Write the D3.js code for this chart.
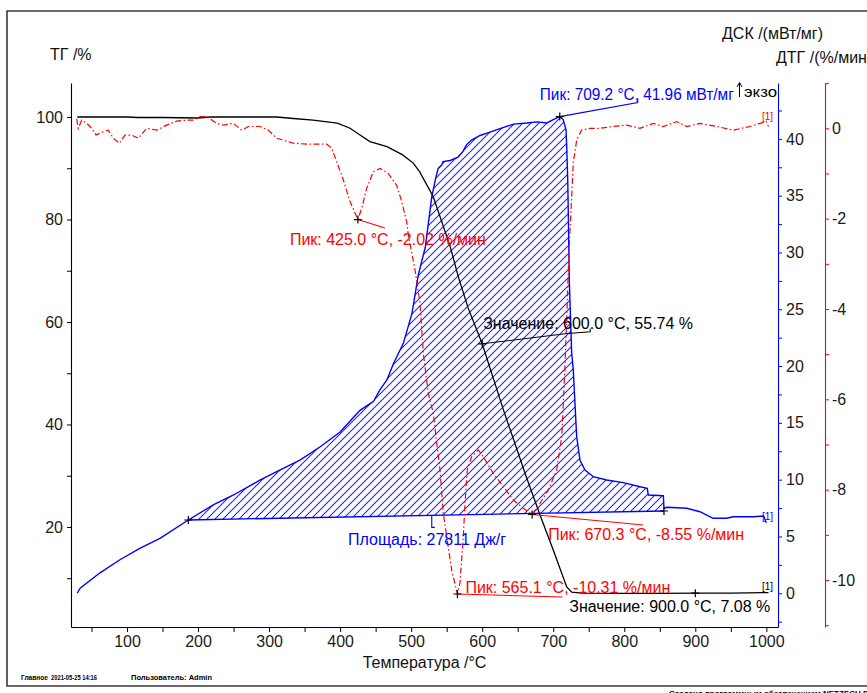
<!DOCTYPE html>
<html>
<head>
<meta charset="utf-8">
<script src="https://cdn.jsdelivr.net/npm/d3@7"></script>
<style>
  body { margin: 0; background: #fff; }
  svg text { font-family: "Liberation Sans", Arial, sans-serif; }
</style>
</head>
<body>
<svg id="chart" width="867" height="693"></svg>
<script>
// ---- Thermal analysis data (STA: TG / DTG / DSC) ----
const tgTemp = [30, 60, 100, 115, 150, 200, 217, 260, 311, 334, 362, 396, 414, 428, 442, 466, 488, 503, 512, 531, 555, 566, 580, 600, 630, 662, 681, 700, 719, 726, 740, 800, 850, 900, 950, 1003];
const tgMass = [100.0, 100.0, 100.0, 99.9, 99.9, 99.8, 100.0, 100.0, 100.0, 99.7, 99.4, 98.8, 97.8, 96.5, 95.2, 94.2, 92.6, 91.0, 89.3, 84.5, 74.7, 69.0, 62.8, 55.74, 42.8, 29.8, 22.5, 15.5, 8.3, 7.3, 7.1, 7.05, 7.05, 7.08, 7.1, 7.2];

const dtgTemp = [29.2, 31.4, 36.2, 43.3, 50.3, 56.4, 64.4, 73.7, 80.7, 89.2, 97.2, 106.6, 115.9, 127.7, 141.8, 155.9, 169.9, 184, 193.3, 202.8, 212.2, 226.3, 235.6, 249.6, 261.5, 270.8, 287.2, 298.9, 310.7, 334.1, 353, 381.1, 388.1, 395.2, 404.5, 413.9, 425.0, 430.4, 437.4, 446.7, 456.1, 467.8, 479.6, 486.7, 493.7, 496, 505.4, 512.5, 517.1, 524.1, 531.2, 536, 540.6, 545.2, 550, 557.1, 565.1, 568.7, 573.4, 575.8, 579, 585.2, 594.5, 601.5, 615.6, 629.7, 643.8, 657.8, 670.3, 681.4, 693.1, 704.9, 712, 714.2, 716.6, 719, 721.2, 723.6, 726, 728.2, 733, 740, 751.7, 765.8, 784.5, 803.4, 822.1, 840.9, 855, 873.8, 887.9, 906.7, 930.2, 953.5, 977, 991, 1000, 1003];
const dtgRate = [0.21, 0.0, 0.18, 0.11, 0.0, -0.15, -0.09, -0.04, -0.22, -0.33, -0.15, -0.15, -0.22, 0.0, -0.04, 0.07, 0.16, 0.18, 0.18, 0.26, 0.26, 0.11, 0.07, 0.11, -0.04, 0.04, 0.04, -0.04, -0.22, -0.33, -0.35, -0.35, -0.44, -0.74, -1.14, -1.62, -2.02, -1.77, -1.33, -0.96, -0.89, -1.0, -1.26, -1.62, -2.07, -2.36, -3.13, -3.87, -4.98, -5.87, -6.31, -6.97, -7.56, -8.52, -9.04, -9.78, -10.31, -10.07, -9.04, -8.3, -7.56, -7.27, -7.12, -7.27, -7.64, -7.93, -8.23, -8.41, -8.55, -8.3, -8.01, -7.56, -6.83, -6.09, -5.2, -4.24, -3.13, -2.25, -1.51, -0.77, -0.26, -0.04, 0.0, 0.0, 0.04, 0.07, 0.0, 0.11, 0.04, 0.15, 0.04, 0.11, 0.04, -0.04, 0.04, 0.11, 0.15, 0.04];

const dscTemp = [30, 34, 62, 90, 118, 147, 186.3, 222, 250, 287, 315, 344, 372, 400, 419, 428, 447, 456, 466, 475, 489, 501, 505, 510, 520, 529, 534, 538, 543, 545, 555, 566, 573, 578, 585, 597, 611, 625, 644, 663, 677, 691, 700, 709.2, 714, 718, 719, 720.4, 721.2, 722.6, 726, 728.2, 730.6, 733, 737.7, 744.7, 756.4, 775.3, 798.7, 822.1, 832.4, 833.8, 855, 855.9, 860, 888, 906.5, 925, 944, 953.4, 982, 996, 1000];
const dscHeat = [0.0, 0.45, 1.8, 2.95, 3.95, 4.85, 6.45, 7.8, 8.65, 9.95, 10.85, 11.75, 12.9, 14.2, 15.5, 16.1, 16.9, 17.9, 18.8, 20.2, 22.0, 24.6, 26.1, 28.0, 30.5, 34.9, 36.4, 37.4, 37.7, 38.0, 38.1, 38.4, 38.9, 39.5, 39.9, 40.3, 40.6, 40.9, 41.3, 41.4, 41.5, 41.4, 41.7, 41.96, 41.7, 40.8, 39.3, 36.4, 33.5, 27.6, 21.1, 19.7, 16.7, 13.8, 11.7, 10.85, 10.26, 9.97, 9.74, 9.38, 9.24, 8.65, 8.59, 7.48, 7.57, 7.48, 7.18, 6.6, 6.6, 6.74, 6.74, 6.8, 6.2];

// Integration limits of the DSC peak (baseline end points)
const baseTemp = [186.3, 855.9];
const baseHeat = [6.45, 7.24];
const areaValue = 27811;

// Tick values
const xTicks = d3.range(50, 1001, 50);
const tgTicks = d3.range(10, 101, 10);
const dscTicks = d3.range(-1, 18).map(i => i * 2.5);
const dtgTicks = d3.range(-11, 2, 1);

// Evaluated points
const dtgPeakTemp = [425.0, 565.1, 670.3];
const dtgPeakRate = [-2.02, -10.31, -8.55];
const dscPeakTemp = 709.2, dscPeakHeat = 41.96;
const tgValueTemp = [600.0, 900.0];
const tgValueMass = [55.74, 7.08];

// ---- Layout ----
const svg = d3.select("#chart");
const L = 71, R = 778, T = 83, B = 627;
const blueAxisX = 778, redAxisX = 825;
const font = "\"Liberation Sans\", Arial, sans-serif";
const BLUE = "#0000ff", RED = "#ff0000";

const x = d3.scaleLinear().domain([21.17, 1016.4]).range([L, R]);
const yTG = d3.scaleLinear().domain([0.488, 106.63]).range([B, T]);
const yDSC = d3.scaleLinear().domain([-2.97, 44.92]).range([B, T]);
const yDTG = d3.scaleLinear().domain([-11.04, 1.003]).range([B, T]);
const baseline = d3.scaleLinear().domain(baseTemp).range(baseHeat);

// Outer frame
svg.append("path").attr("d", `M867,11 H7 V686 H867`)
  .attr("stroke", "#3a3a3a").attr("stroke-width", 1.6).attr("fill", "none");

const defs = svg.append("defs");
defs.append("clipPath").attr("id", "plotClip").append("rect")
  .attr("x", L).attr("y", T).attr("width", R - L).attr("height", B - T);

// ---- Axes ----
function styleAxis(g, color) {
  g.select(".domain").attr("stroke", color).attr("stroke-width", 1.1);
  g.selectAll(".tick line").attr("stroke", color).attr("stroke-width", 1);
  g.selectAll(".tick text").attr("fill", "#1a1a1a").attr("font-size", 16).attr("font-family", font);
}

const gx = svg.append("g").attr("transform", `translate(0,${B})`)
  .call(d3.axisBottom(x).tickValues(xTicks).tickSize(5).tickSizeOuter(0).tickPadding(4)
    .tickFormat(d => d % 100 === 0 ? String(d) : ""));
styleAxis(gx, "#000");

const gTG = svg.append("g").attr("transform", `translate(${L},0)`)
  .call(d3.axisLeft(yTG).tickValues(tgTicks).tickSize(4).tickSizeOuter(0).tickPadding(4)
    .tickFormat(d => d % 20 === 0 ? String(d) : ""));
styleAxis(gTG, "#000");

const gDSC = svg.append("g").attr("transform", `translate(${blueAxisX},0)`)
  .call(d3.axisRight(yDSC).tickValues(dscTicks).tickSize(4).tickSizeOuter(0).tickPadding(4)
    .tickFormat(d => Number.isInteger(d / 5) ? String(d) : ""));
styleAxis(gDSC, BLUE);

const gDTG = svg.append("g").attr("transform", `translate(${redAxisX},0)`)
  .call(d3.axisRight(yDTG).tickValues(dtgTicks).tickSize(4).tickSizeOuter(0).tickPadding(3)
    .tickFormat(d => d % 2 === 0 ? String(d) : ""));
styleAxis(gDTG, RED);

// Axis titles
const titles = [
  { t: "ТГ /%", x: 50, y: 60, a: "start" },
  { t: "ДСК /(мВт/мг)", x: 722, y: 39, a: "start" },
  { t: "ДТГ /(%/мин)", x: 776, y: 63, a: "start" },
  { t: "Температура /°C", x: (L + R) / 2, y: 668, a: "middle" }
];
svg.append("g").selectAll("text").data(titles).join("text")
  .attr("x", d => d.x).attr("y", d => d.y).attr("text-anchor", d => d.a)
  .attr("font-size", 16).attr("fill", "#111").text(d => d.t);

// ---- Curves ----
const plot = svg.append("g").attr("clip-path", "url(#plotClip)");

const dscPts = dscTemp.map((t, i) => [t, dscHeat[i]]);
const tgPts = tgTemp.map((t, i) => [t, tgMass[i]]);
const dtgPts = dtgTemp.map((t, i) => [t, dtgRate[i]]);
const peakPts = dscPts.filter(p => p[0] >= baseTemp[0] && p[0] <= baseTemp[1]);

// hatched peak area between DSC signal and baseline: diagonal strokes clipped to the area
const peakArea = d3.area().x(p => x(p[0])).y0(p => yDSC(baseline(p[0]))).y1(p => yDSC(p[1]));
defs.append("clipPath").attr("id", "peakClip").append("path").datum(peakPts).attr("d", peakArea);
const hatchStep = 8;
const hatchOffsets = d3.range(L + T - 20, R + B + 20, hatchStep);
plot.append("g").attr("clip-path", "url(#peakClip)")
  .selectAll("line").data(hatchOffsets).join("line")
  .attr("x1", s => s - B).attr("y1", B)
  .attr("x2", s => s - T).attr("y2", T)
  .attr("stroke", "#2020ff").attr("stroke-width", 1.1);

// baseline
plot.append("path").datum(baseTemp.map((t, i) => [t, baseHeat[i]]))
  .attr("d", d3.line().x(p => x(p[0])).y(p => yDSC(p[1])))
  .attr("stroke", BLUE).attr("stroke-width", 1.3).attr("fill", "none");

// DSC
plot.append("path").datum(dscPts)
  .attr("d", d3.line().x(p => x(p[0])).y(p => yDSC(p[1])))
  .attr("stroke", BLUE).attr("stroke-width", 1.4).attr("fill", "none");

// TG
plot.append("path").datum(tgPts)
  .attr("d", d3.line().x(p => x(p[0])).y(p => yTG(p[1])))
  .attr("stroke", "#000").attr("stroke-width", 1.3).attr("fill", "none");

// DTG
plot.append("path").datum(dtgPts)
  .attr("d", d3.line().x(p => x(p[0])).y(p => yDTG(p[1])))
  .attr("stroke", RED).attr("stroke-width", 1.2).attr("fill", "none")
  .attr("stroke-dasharray", "6,2.5,1.5,2.5");

// ---- Annotations ----
const ann = svg.append("g");
function cross(px, py) {
  ann.append("path").attr("d", `M${px - 4},${py} H${px + 4} M${px},${py - 4} V${py + 4}`)
    .attr("stroke", "#000").attr("stroke-width", 1.2);
}
function leader(pts, color) {
  ann.append("path").attr("d", d3.line()(pts)).attr("stroke", color)
    .attr("stroke-width", 1.1).attr("fill", "none");
}
function label(txt, px, py, color, anchor) {
  return ann.append("text").attr("x", px).attr("y", py).attr("fill", color)
    .attr("font-size", 16).attr("text-anchor", anchor || "start").text(txt);
}
const f1 = v => v.toFixed(1), f2 = v => v.toFixed(2);

// DSC peak
{
  const px = x(dscPeakTemp), py = yDSC(dscPeakHeat);
  leader([[px, py], [px + 78, py - 14], [px + 78, py - 18]], BLUE);
  cross(px, py);
  label(`Пик: ${f1(dscPeakTemp)} °C, ${f2(dscPeakHeat)} мВт/мг`, px - 20, py - 16.5, BLUE)
    .attr("textLength", 194).attr("lengthAdjust", "spacingAndGlyphs");
}
// DTG peaks
const dtgLabelOffsets = [[-68, 25.5], [8, -1], [16, 25.5]];
const dtgLeaders = [[[27, 8.5]], [[105, 3]], [[111, 10.5]]];
dtgPeakTemp.forEach((t, i) => {
  const px = x(t), py = yDTG(dtgPeakRate[i]);
  leader([[px, py]].concat(dtgLeaders[i].map(o => [px + o[0], py + o[1]])), RED);
  cross(px, py);
  label(`Пик: ${f1(t)} °C, ${f2(dtgPeakRate[i])} %/мин`, px + dtgLabelOffsets[i][0], py + dtgLabelOffsets[i][1], RED);
});
// TG values
{
  const px = x(tgValueTemp[0]), py = yTG(tgValueMass[0]);
  leader([[px, py], [px + 83, py - 10], [px + 108, py - 12], [px + 108, py - 15]], "#000");
  cross(px, py);
  label(`Значение: ${f1(tgValueTemp[0])} °C, ${f2(tgValueMass[0])} %`, px + 1, py - 15, "#000");
}
{
  const px = x(tgValueTemp[1]), py = yTG(tgValueMass[1]);
  cross(px, py);
  label(`Значение: ${f1(tgValueTemp[1])} °C, ${f2(tgValueMass[1])} %`, px + 75, py + 18.5, "#000", "end");
}
// Baseline limits and area
baseTemp.forEach((t, i) => cross(x(t), yDSC(baseHeat[i])));
{
  const bt = 529, px = x(bt), py = yDSC(baseline(bt));
  leader([[px, py], [px, py + 12], [px + 3, py + 12]], BLUE);
  label(`Площадь: ${areaValue} Дж/г`, 348, 545, BLUE);
}

// Exo direction marker
ann.append("path").attr("d", "M739.5,97 V83 M737,87 L739.5,82.5 L742,87")
  .attr("stroke", "#000").attr("stroke-width", 1).attr("fill", "none");
ann.append("text").attr("x", 744).attr("y", 97).attr("font-size", 15).attr("fill", "#000")
  .attr("textLength", 33).attr("lengthAdjust", "spacingAndGlyphs").text("экзо");

// Segment tags at curve ends
const tags = [
  { c: RED, v: yDTG(dtgRate[dtgRate.length - 1]) - 7 },
  { c: BLUE, v: yDSC(dscHeat[dscHeat.length - 2]) + 4 },
  { c: "#000", v: yTG(tgMass[tgMass.length - 1]) - 3 }
];
ann.selectAll(".tag").data(tags).join("text").attr("class", "tag")
  .attr("x", 762).attr("y", d => d.v).attr("font-size", 10).attr("fill", d => d.c).text("[1]");

// Footer
const foot = svg.append("g").attr("font-size", 8).attr("fill", "#000").attr("font-weight", "bold");
const footItems = [
  { t: "Главное", x: 21, w: 27 },
  { t: "2021-05-25 14:16", x: 51, w: 46 },
  { t: "Пользователь: Admin", x: 131, w: 81 }
];
foot.selectAll("text").data(footItems).join("text")
  .attr("x", d => d.x).attr("y", 680).attr("textLength", d => d.w)
  .attr("lengthAdjust", "spacingAndGlyphs").text(d => d.t);
svg.append("text").attr("x", 669).attr("y", 696).attr("font-size", 8).attr("font-weight", "bold")
  .attr("fill", "#000").text("Создано программным обеспечением NETZSCH Proteus");
</script>
</body>
</html>
